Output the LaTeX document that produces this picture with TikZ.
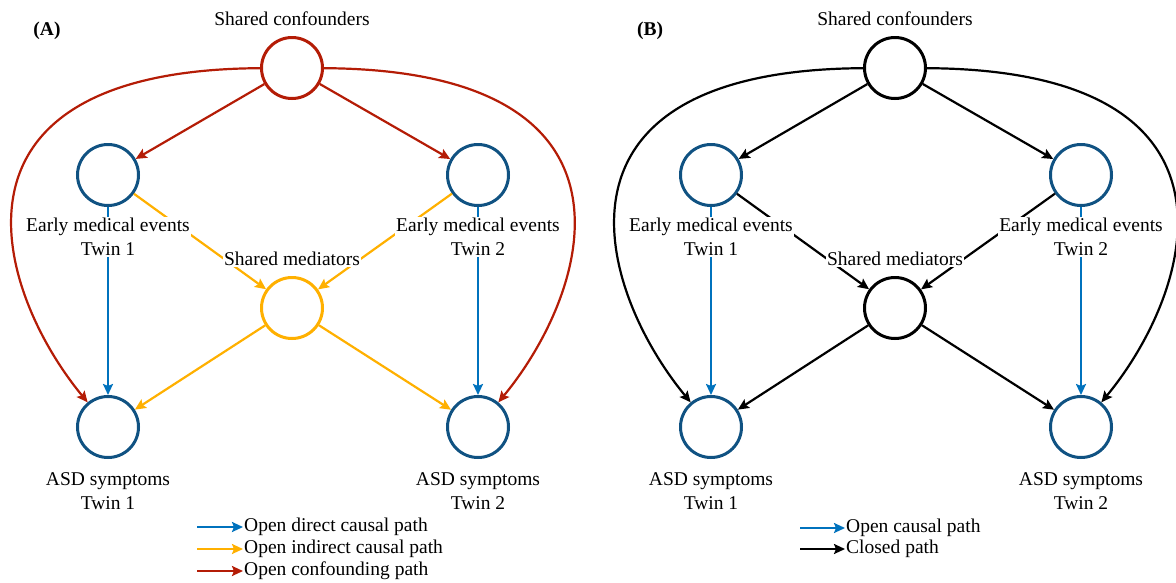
\documentclass[tikz,border=0pt]{standalone}
\usepackage{fontspec}
\setmainfont{Liberation Serif}
\usetikzlibrary{arrows.meta}
\definecolor{cred}{RGB}{180,28,6}
\definecolor{cblue}{RGB}{0,114,189}
\definecolor{cyel}{RGB}{255,176,0}
\definecolor{cnode}{RGB}{16,82,130}
\begin{document}
\begin{tikzpicture}[x=1pt,y=-1pt,
  every node/.style={font=\fontsize{19.5}{24}\selectfont},
  var/.style={circle,draw,line width=3pt,minimum size=61pt,inner sep=0pt},
  lab/.style={fill=white,inner sep=1pt,align=center},
  edge/.style={line width=2.2pt,-{Stealth[length=11pt,width=10pt,inset=2pt]}},
]
\useasboundingbox (0,0) rectangle (1176,582);
% ---------- Panel A ----------
\node[font=\fontsize{19.5}{24}\selectfont\bfseries] (tA) at (47,31) {(A)};
\node[var,draw=cred] (confA) at (292,68) {};
\node[var,draw=cnode] (e1A) at (108,175) {};
\node[var,draw=cnode] (e2A) at (478,175) {};
\node[var,draw=cyel] (medA) at (292,308) {};
\node[var,draw=cnode] (a1A) at (108,427) {};
\node[var,draw=cnode] (a2A) at (478,427) {};
\draw[edge,cred] (confA) -- (e1A);
\draw[edge,cred] (confA) -- (e2A);
\draw[edge,cred] (confA) .. controls (-72,70) and (-5,290) .. (a1A);
\draw[edge,cred] (confA) .. controls (658,70) and (591,290) .. (a2A);
\draw[edge,cblue] (e1A) -- (a1A);
\draw[edge,cblue] (e2A) -- (a2A);
\draw[edge,cyel] (e1A) -- (medA);
\draw[edge,cyel] (e2A) -- (medA);
\draw[edge,cyel] (medA) -- (a1A);
\draw[edge,cyel] (medA) -- (a2A);
\node[lab] (lconfA) at (292,19) {Shared confounders};
\node[lab] (le1A) at (108,237) {Early medical events\\Twin 1};
\node[lab] (le2A) at (478,237) {Early medical events\\Twin 2};
\node[lab] (lmedA) at (292,259) {Shared mediators};
\node[lab] (la1A) at (108,491) {ASD symptoms\\Twin 1};
\node[lab] (la2A) at (478,491) {ASD symptoms\\Twin 2};
% legend A
\coordinate (s1A) at (197,527);
\coordinate (s2A) at (197,549);
\coordinate (s3A) at (197,571);
\node[anchor=west,inner sep=1pt] (g1A) at (243,527) {Open direct causal path};
\node[anchor=west,inner sep=1pt] (g2A) at (243,549) {Open indirect causal path};
\node[anchor=west,inner sep=1pt] (g3A) at (243,571) {Open confounding path};
\draw[edge,cblue] (s1A) -- (g1A.west);
\draw[edge,cyel] (s2A) -- (g2A.west);
\draw[edge,cred] (s3A) -- (g3A.west);
% ---------- Panel B ----------
\node[font=\fontsize{19.5}{24}\selectfont\bfseries] (tB) at (650,31) {(B)};
\node[var,draw=black] (confB) at (895,68) {};
\node[var,draw=cnode] (e1B) at (711,175) {};
\node[var,draw=cnode] (e2B) at (1081,175) {};
\node[var,draw=black] (medB) at (895,308) {};
\node[var,draw=cnode] (a1B) at (711,427) {};
\node[var,draw=cnode] (a2B) at (1081,427) {};
\draw[edge,black] (confB) -- (e1B);
\draw[edge,black] (confB) -- (e2B);
\draw[edge,black] (confB) .. controls (531,70) and (598,290) .. (a1B);
\draw[edge,black] (confB) .. controls (1261,70) and (1194,290) .. (a2B);
\draw[edge,cblue] (e1B) -- (a1B);
\draw[edge,cblue] (e2B) -- (a2B);
\draw[edge,black] (e1B) -- (medB);
\draw[edge,black] (e2B) -- (medB);
\draw[edge,black] (medB) -- (a1B);
\draw[edge,black] (medB) -- (a2B);
\node[lab] (lconfB) at (895,19) {Shared confounders};
\node[lab] (le1B) at (711,237) {Early medical events\\Twin 1};
\node[lab] (le2B) at (1081,237) {Early medical events\\Twin 2};
\node[lab] (lmedB) at (895,259) {Shared mediators};
\node[lab] (la1B) at (711,491) {ASD symptoms\\Twin 1};
\node[lab] (la2B) at (1081,491) {ASD symptoms\\Twin 2};
% legend B
\coordinate (s1B) at (800,528);
\coordinate (s2B) at (800,549);
\node[anchor=west,inner sep=1pt] (g1B) at (845,528) {Open causal path};
\node[anchor=west,inner sep=1pt] (g2B) at (845,549) {Closed path};
\draw[edge,cblue] (s1B) -- (g1B.west);
\draw[edge,black] (s2B) -- (g2B.west);
\end{tikzpicture}
\end{document}
